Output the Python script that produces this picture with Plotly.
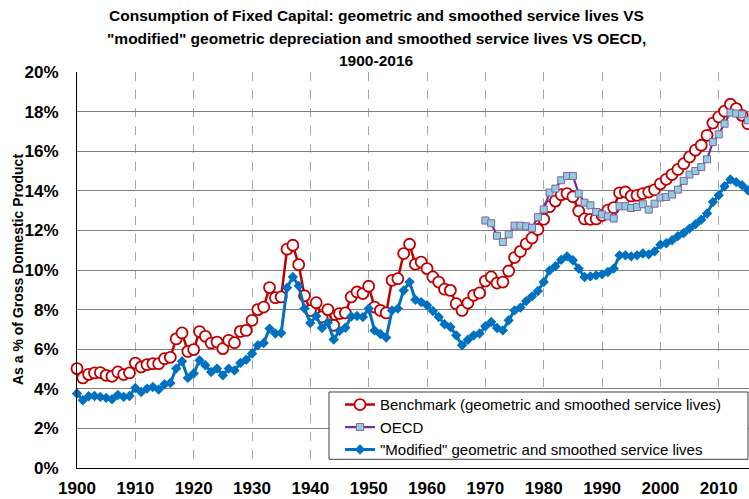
import plotly.graph_objects as go

years = list(range(1900, 2016))
oecd_years = list(range(1970, 2016))

benchmark = [
    5.02, 4.55, 4.73, 4.80, 4.82, 4.68, 4.63, 4.85, 4.72, 4.80,
    5.30, 5.10, 5.22, 5.27, 5.27, 5.52, 5.59, 6.52, 6.82, 5.89,
    5.98, 6.89, 6.65, 6.31, 6.36, 6.03, 6.45, 6.33, 6.90, 6.95,
    7.46, 8.00, 8.13, 9.11, 8.60, 8.64, 11.05, 11.25, 10.27, 8.70,
    7.95, 8.35, 7.63, 8.00, 7.21, 7.80, 7.83, 8.64, 8.89, 8.81,
    9.18, 8.13, 7.96, 7.83, 9.48, 9.56, 10.83, 11.30, 10.29, 10.40,
    10.07, 9.65, 9.39, 9.03, 8.97, 8.30, 7.96, 8.33, 8.72, 8.84,
    9.44, 9.65, 9.34, 9.39, 9.95, 10.63, 10.94, 11.32, 11.62, 12.05,
    12.56, 13.20, 13.48, 13.80, 13.86, 13.70, 12.98, 12.58, 12.56, 12.58,
    12.76, 13.02, 13.15, 13.90, 13.94, 13.74, 13.77, 13.86, 13.94, 14.05,
    14.35, 14.58, 14.82, 15.08, 15.37, 15.71, 16.05, 16.30, 16.80, 17.42,
    17.73, 18.02, 18.37, 18.15, 17.81, 17.39,
]

oecd = [
    12.50, 12.36, 11.73, 11.41, 11.80, 12.24, 12.24, 12.21, 12.13, 12.67,
    13.06, 13.91, 14.11, 14.53, 14.75, 14.75, 13.86, 13.40, 13.27, 12.93,
    12.81, 12.71, 12.60, 13.22, 13.22, 13.13, 13.18, 13.32, 13.05, 13.35,
    13.66, 13.69, 13.81, 14.06, 14.50, 14.82, 15.00, 15.20, 15.59, 16.46,
    16.85, 17.39, 17.95, 17.90, 17.86, 17.56,
]

modified = [
    3.76, 3.42, 3.62, 3.64, 3.59, 3.54, 3.47, 3.69, 3.59, 3.64,
    4.04, 3.84, 4.01, 4.09, 3.96, 4.23, 4.29, 5.02, 5.39, 4.55,
    4.77, 5.44, 5.19, 4.85, 5.02, 4.68, 5.02, 4.93, 5.30, 5.47,
    5.78, 6.20, 6.31, 7.04, 6.79, 6.82, 9.10, 9.65, 9.20, 8.05,
    7.32, 7.68, 7.07, 7.35, 6.49, 6.93, 7.08, 7.65, 7.68, 7.62,
    8.05, 6.95, 6.77, 6.59, 7.96, 8.05, 8.97, 9.39, 8.50, 8.38,
    8.22, 7.93, 7.63, 7.26, 7.12, 6.70, 6.20, 6.48, 6.70, 6.79,
    7.16, 7.37, 7.07, 6.95, 7.46, 7.96, 8.10, 8.43, 8.67, 8.94,
    9.39, 9.98, 10.19, 10.52, 10.69, 10.49, 10.07, 9.65, 9.68, 9.73,
    9.78, 9.90, 10.07, 10.74, 10.74, 10.69, 10.74, 10.83, 10.79, 10.94,
    11.28, 11.35, 11.50, 11.71, 11.87, 12.09, 12.31, 12.54, 12.85, 13.43,
    13.77, 14.23, 14.57, 14.44, 14.28, 14.03,
]

x_tick_vals = list(range(1900, 2011, 10))
x_tick_text = [str(v) for v in x_tick_vals]
y_tick_vals = list(range(0, 21, 2))
y_tick_text = [f"{v}%" for v in y_tick_vals]

series_names = [
    "Benchmark (geometric and smoothed service lives)",
    "OECD",
    "\"Modified\" geometric and smoothed service lives",
]

title_lines = [
    "Consumption of Fixed Capital: geometric and smoothed service lives VS",
    "\"modified\" geometric depreciation and smoothed service lives VS OECD,",
    "1900-2016",
]
y_title = "As a % of Gross Domestic Product"

fig = go.Figure()
fig.add_trace(go.Scatter(
    x=years, y=benchmark, name=series_names[0], mode="lines+markers",
    line=dict(color="#C00000", width=2.5),
    marker=dict(symbol="circle", size=11, color="white",
                line=dict(color="#C00000", width=1.8)),
    cliponaxis=False,
))
fig.add_trace(go.Scatter(
    x=oecd_years, y=oecd, name=series_names[1], mode="lines+markers",
    line=dict(color="#7030A0", width=2.2),
    marker=dict(symbol="square", size=7, color="#93CDDD",
                line=dict(color="#8064A2", width=1)),
    cliponaxis=False,
))
fig.add_trace(go.Scatter(
    x=years, y=modified, name=series_names[2], mode="lines+markers",
    line=dict(color="#0070C0", width=3),
    marker=dict(symbol="diamond", size=8, color="#0070C0"),
    cliponaxis=False,
))

# plot area: left 77px, top 72px, width 672px, height 396px
PX = 672.0
PY = 396.0
BOTTOM = 467.7

def px_x(px):
    return (px - 77.0) / PX

def px_y(py):
    return (BOTTOM - py) / PY

annotations = []
for line, cy in zip(title_lines, [15, 38, 60]):
    annotations.append(dict(
        text=line, xref="paper", yref="paper", x=px_x(376), y=px_y(cy),
        xanchor="center", yanchor="middle", showarrow=False,
        font=dict(family="Liberation Sans, Arial, sans-serif", size=15.5,
                  color="black", weight="bold"),
    ))
annotations.append(dict(
    text=y_title, xref="paper", yref="paper", x=px_x(18), y=0.5,
    xanchor="center", yanchor="middle", showarrow=False, textangle=-90,
    font=dict(family="Liberation Sans, Arial, sans-serif", size=14,
              color="black", weight="bold"),
))

shapes = [dict(
    type="rect", xref="paper", yref="paper",
    x0=px_x(329), x1=px_x(748), y0=px_y(459), y1=px_y(391.7),
    fillcolor="white", line=dict(color="#404040", width=1), layer="above",
)]

fig.update_layout(
    width=749, height=499,
    margin=dict(l=77, r=0, t=72, b=31),
    paper_bgcolor="white", plot_bgcolor="white",
    font=dict(family="Liberation Sans, Arial, sans-serif", color="black"),
    showlegend=True,
    legend=dict(x=px_x(340), y=px_y(388), xanchor="left", yanchor="top",
                bgcolor="rgba(0,0,0,0)", borderwidth=0,
                font=dict(size=15, color="black"),
                tracegroupgap=0, itemwidth=30),
    annotations=annotations,
    shapes=shapes,
    xaxis=dict(range=[1900, 2015.19], tickvals=x_tick_vals, ticktext=x_tick_text,
               showgrid=True, gridcolor="#A6A6A6", griddash="dash", gridwidth=1,
               showline=True, linecolor="black", linewidth=1, ticks="",
               tickfont=dict(size=17, weight="bold"), zeroline=False,
               ticklabelstandoff=5),
    yaxis=dict(range=[0, 20], tickvals=y_tick_vals, ticktext=y_tick_text,
               showgrid=True, gridcolor="#7F7F7F", gridwidth=1,
               showline=True, linecolor="black", linewidth=1, ticks="",
               tickfont=dict(size=17, weight="bold"), zeroline=False,
               ticklabelstandoff=14),
)

fig.write_html("out.html", config={"displayModeBar": False},
               post_script="document.body.style.margin='0';")
